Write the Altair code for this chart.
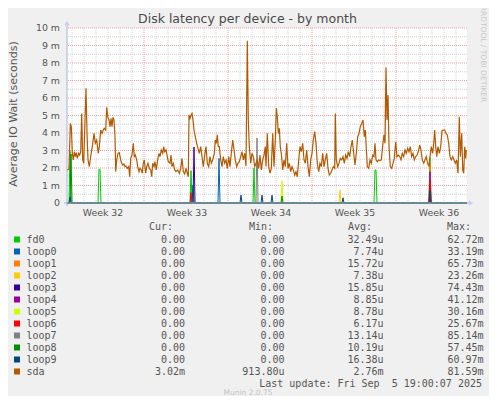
import altair as alt
import pandas as pd

# ---------------- data ----------------
N = 400  # 2-hour samples in the month window

title_text = "Disk latency per device - by month"
y_title = "Average IO Wait (seconds)"
week_ticks = [36, 120, 204, 288, 372]
week_labels = ["Week 32", "Week 33", "Week 34", "Week 35", "Week 36"]
y_ticks = list(range(11))
y_labels = ["0", "1 m", "2 m", "3 m", "4 m", "5 m", "6 m", "7 m", "8 m", "9 m", "10 m"]

names = ["fd0", "loop0", "loop1", "loop2", "loop3", "loop4", "loop5",
         "loop6", "loop7", "loop8", "loop9", "sda"]
colors = ["#00CC00", "#0066B3", "#FF8000", "#FFCC00", "#330099", "#990099",
          "#CCFF00", "#FF0000", "#808080", "#008F00", "#00487D", "#B35A00"]
cur_vals = ["0.00"] * 11 + ["3.02m"]
min_vals = ["0.00"] * 11 + ["913.80u"]
avg_vals = ["32.49u", "7.74u", "15.72u", "7.38u", "15.85u", "8.85u", "8.78u",
            "6.17u", "13.14u", "10.19u", "16.38u", "2.76m"]
max_vals = ["62.72m", "33.19m", "65.73m", "23.26m", "74.43m", "41.12m", "30.16m",
            "25.67m", "85.14m", "57.45m", "60.97m", "81.59m"]
last_update = "Last update: Fri Sep\u00a0 5 19:00:07 2025"

# loop/fd devices: sample index -> latency (ms), zero elsewhere
spikes = {
    "fd0": {3: 2.95, 32: 1.93, 33: 1.93, 124: 1.85, 187: 2.0, 308: 1.89, 309: 1.89, 363: 2.6},
    "loop0": {152: 2.55},
    "loop1": {363: 2.27},
    "loop2": {273: 0.74},
    "loop3": {127: 3.2},
    "loop4": {363: 1.79},
    "loop5": {215: 1.28},
    "loop6": {124: 0.6, 363: 1.31},
    "loop7": {190: 3.72},
    "loop8": {4: 2.8, 215: 0.4},
    "loop9": {3: 0.35, 126: 1.0, 174: 0.45, 195: 0.45, 205: 0.45, 276: 0.3, 363: 0.74},
}

# sda: sample index, latency (ms)
sda_t = [0, 2, 3.3, 4.3, 5.3, 6.3, 7.3, 8.3, 9.3, 10.3, 11.7, 12.7, 13.7, 14.7, 15.7, 16.7,
         17.7, 19, 20, 21, 22.3, 23.7, 25.3, 27, 28.3, 29.7, 31.3, 32.3, 33.7, 35, 36.3, 37.3,
         38.7, 39.7, 40.7, 42, 43, 44, 45, 46, 47, 48, 48.7, 49.7, 51, 52.3, 53.7, 54.7, 55.7,
         57, 58, 59, 60.3, 61.7, 62.7, 63.7, 65, 66.3, 67.3, 68.3, 69.7, 70.7, 72, 73, 74.3,
         75.3, 76.3, 77.3, 78.7, 79.7, 81, 82.3, 83.7, 84.7, 85.7, 87, 88, 89.3, 90.7, 92, 93,
         94.3, 95.7, 96.7, 97.7, 99, 100, 101.3, 103,
         104, 105, 106.3, 107.7, 109, 110.7, 112.3, 113.7, 115, 116.3, 117.7, 119, 120.3, 121.3,
         122, 123, 124, 125, 126, 127, 128.3, 129.7, 131, 132.3, 133.7, 135, 136.3, 137.7, 139,
         140.3, 141.7, 143, 144.3, 145.7, 147.3, 148.3, 149.3, 150.3, 151.3, 152.3, 153.7, 155,
         156.3, 157.7, 159, 160.3, 161.7, 163, 164.3, 165.7, 167, 168.3, 169.7, 171, 172.3,
         173.7, 175, 176.3, 177.7, 179, 180.3, 181.3, 182.3, 183.7, 185, 186.3, 187.7, 189,
         190.3, 191.7, 193, 194.3, 195.7, 197, 198.3,
         199, 200.3, 201.7, 203, 204.3, 205.7, 207, 208.3, 209.3, 210.3, 211.3, 212.3, 213.3,
         214.3, 215.7, 217, 218.3, 219.7, 221, 222.3, 223.7, 225, 226.3, 227.7, 229, 230.3,
         231.7, 233, 234.3, 235.7, 237, 238.3, 239.7, 241, 242.3, 243.7, 245, 246.3, 247.7, 249,
         250.3, 251.7, 253, 254.3, 255.7, 257, 258.3, 259.7, 261, 262.3, 263.7, 265, 266.3,
         267.7, 268.3, 269.3, 270.7, 272, 273.3, 274.7, 276, 277.3, 278.7, 280, 281.3, 282.7,
         284, 285.3, 286.7, 288, 289.3, 290.7, 292, 293.3, 294.7, 296, 297.3, 298.3,
         300.3, 301.7, 303, 304.3, 305.7, 307, 308, 309, 310.3, 311.7, 313, 314.3, 315.7, 317,
         318, 319, 320, 321, 322, 323.3, 324.7, 326, 327.3, 328.7, 330, 331.3, 332.7, 334,
         335.3, 336.7, 338, 339.3, 340.7, 342, 343.3, 344.7, 346, 347.3, 348.7, 350, 351.3,
         352.7, 354, 355.3, 356.7, 358, 359.3, 360.7, 362, 363, 364.3, 365.7, 366.7, 367.7,
         368.7, 369.7, 371, 372.3, 373.7, 375, 376.3, 377.7, 379, 380.3, 381.7, 383, 384.3,
         385.7, 387, 388.3, 389.7, 391, 392.3, 393.3, 394.7, 395.7, 396.7, 397.7, 398.7, 399.3]
sda_v = [1.89, 1.92, 4.55, 4.36, 2.84, 2.46, 2.93, 2.65, 2.88, 2.55, 2.84, 2.74, 2.93, 5.12, 2.46,
         2.27, 4.17, 6.55, 3.98, 2.46, 2.08, 2.65, 3.22, 3.98, 3.41, 3.6, 2.84, 3.22, 4.17, 3.98,
         4.17, 4.27, 4.17, 5.47, 4.93, 4.74, 4.36, 4.84, 4.36, 4.9, 4.74, 3.79, 1.79, 2.46, 2.84,
         2.88, 2.46, 2.27, 2.17, 2.23, 2.08, 2.11, 1.98, 2.08, 1.5, 2.55, 2.74, 3.41, 2.65, 2.74,
         2.46, 2.08, 1.79, 1.98, 1.89, 1.7, 2.27, 2.46, 1.7, 2.08, 2.27, 1.98, 1.89, 1.5, 2.27,
         2.08, 2.36, 1.89, 2.46, 2.84, 2.65, 3.03, 2.84, 3.22, 2.93, 3.03, 2.74, 2.36, 2.27,
         2.74, 2.08, 2.27, 1.89, 1.79, 1.89, 1.7, 1.98, 2.55, 1.79, 1.66, 1.98, 1.7, 1.5,
         5.03, 4.84, 5.03, 5.12, 4.74, 4.17, 3.79, 3.41, 3.12, 2.84, 3.22, 2.65, 2.08, 2.74, 3.22,
         2.27, 2.08, 2.65, 2.27, 2.46, 2.84, 3.6, 3.41, 3.89, 3.22, 3.22, 2.46, 2.08,
         2.65, 2.27, 2.46, 1.98, 2.65, 2.08, 2.84, 3.6, 3.03, 2.46, 2.08, 2.27, 2.36,
         2.65, 2.93, 2.46, 2.84, 2.11, 9.27, 4.74, 3.22, 2.27, 2.84, 2.65, 2.08, 2.27,
         2.46, 1.98, 2.74, 1.89, 2.46, 2.74, 3.22,
         2.08, 3.98, 2.08, 1.7, 1.98, 3.98, 2.08, 3.6, 5.42, 4.93, 3.98, 4.27, 3.22,
         2.84, 1.89, 2.46, 2.08, 3.41, 1.98, 2.27, 1.79, 2.08, 1.89, 1.6, 1.79, 1.5,
         2.46, 3.22, 2.93, 3.41, 2.46, 2.27, 3.03, 2.08, 1.5, 2.46, 2.84, 3.6, 4.08, 3.41,
         2.27, 1.79, 2.27, 2.08, 2.84, 2.08, 2.46, 2.84, 1.98, 1.6, 1.7, 1.89, 2.08,
         1.98, 5.12, 2.46, 2.08, 2.27, 2.55, 2.46, 2.65, 2.27, 2.74, 2.55, 2.93, 2.65,
         3.22, 3.6, 2.84, 2.17, 2.84, 3.79, 3.98, 4.36, 4.55, 4.74, 3.79, 4.17,
         2.08, 1.98, 2.46, 2.27, 2.74, 2.65, 3.41, 2.46, 2.36, 2.46, 2.42, 2.46, 3.31, 3.89,
         3.41, 7.75, 4.74, 6.17, 3.22, 2.08, 1.98, 2.27, 2.55, 3.5, 2.65, 2.74, 2.65, 2.46,
         2.84, 2.65, 3.03, 2.84, 3.12, 2.93, 3.22, 2.65, 2.84, 2.46, 2.65, 2.74, 2.93,
         3.31, 3.03, 2.46, 2.27, 2.46, 2.65, 2.27, 2.08, 2.65, 3.22, 2.84, 3.41, 4.17,
         3.22, 2.65, 3.22, 2.84, 3.22, 4.13, 4.17, 4.17, 3.98, 3.89, 3.41, 2.65, 2.46,
         2.65, 2.46, 2.27, 2.46, 1.7, 4.93, 2.65, 3.98, 1.89, 1.7, 3.22, 2.55, 3.03]

# grid positions (sample index / ms)
day_lines = [5 + 12 * k for k in range(33)]
week_lines = [77, 161, 245, 329]
minor_h = [i + 0.5 for i in range(10)]
major_h = list(range(1, 11))

# ---------------- styling ----------------
FONT = "DejaVu Sans"
MONO = "DejaVu Sans Mono"
TXT = "#555555"
AXIS_COL = "#A8B2D8"
ARROW_COL = "#C8D0F4"

xs = alt.Scale(domain=[0, N], nice=False, zero=False)
ys = alt.Scale(domain=[0, 10], nice=False, zero=False)

one = pd.DataFrame({"a": [0]})

# grid layers
g_vmin = alt.Chart(pd.DataFrame({"t": [d for d in day_lines if d not in week_lines]})).mark_rule(
    color="#D2D2D2", strokeDash=[1, 1], strokeWidth=1).encode(x=alt.X("t:Q", scale=xs, axis=None))
g_hmin = alt.Chart(pd.DataFrame({"v": minor_h})).mark_rule(
    color="#D2D2D2", strokeDash=[1, 1], strokeWidth=1).encode(y=alt.Y("v:Q", scale=ys, axis=None))
g_vmaj = alt.Chart(pd.DataFrame({"t": week_lines})).mark_rule(
    color="#F3A0A0", strokeDash=[1, 1], strokeWidth=1).encode(x=alt.X("t:Q", scale=xs, axis=None))
g_hmaj = alt.Chart(pd.DataFrame({"v": major_h})).mark_rule(
    color="#F3A0A0", strokeDash=[1, 1], strokeWidth=1).encode(y=alt.Y("v:Q", scale=ys, axis=None))

# device series (drawn in legend order, sda last)
series_layers = []
for name, col in zip(names[:-1], colors[:-1]):
    vals = [spikes[name].get(t, 0.0) for t in range(N + 1)]
    df = pd.DataFrame({"t": list(range(N + 1)), "v": vals})
    series_layers.append(
        alt.Chart(df).mark_line(color=col, strokeWidth=1, interpolate="linear").encode(
            x=alt.X("t:Q", scale=xs, axis=None), y=alt.Y("v:Q", scale=ys, axis=None)))

sda = alt.Chart(pd.DataFrame({"t": sda_t, "v": sda_v})).mark_line(
    color=colors[-1], strokeWidth=1.2).encode(
    x=alt.X("t:Q", scale=xs, axis=None), y=alt.Y("v:Q", scale=ys, axis=None))

# tick labels (placed through the same scales)
x_tick_text = alt.Chart(pd.DataFrame({"t": week_ticks, "s": week_labels})).mark_text(
    align="center", baseline="middle", font=FONT, fontSize=9.4, color=TXT).encode(
    x=alt.X("t:Q", scale=xs, axis=None), y=alt.value(184.5), text="s:N")
y_tick_text = alt.Chart(pd.DataFrame({"v": y_ticks, "s": y_labels})).mark_text(
    align="right", baseline="middle", font=FONT, fontSize=9.4, color=TXT).encode(
    y=alt.Y("v:Q", scale=ys, axis=None), x=alt.value(-7), text="s:N")

# axes lines & arrows
x_line = alt.Chart(one).mark_rule(color=AXIS_COL, strokeWidth=1).encode(
    x=alt.value(-3), x2=alt.value(402), y=alt.value(175))
y_line = alt.Chart(one).mark_rule(color=AXIS_COL, strokeWidth=1).encode(
    x=alt.value(0), y=alt.value(-4), y2=alt.value(178))
x_arrow = alt.Chart(one).mark_point(shape="triangle-right", filled=True, size=28, opacity=1,
                                    color=ARROW_COL).encode(x=alt.value(404), y=alt.value(175))
y_arrow = alt.Chart(one).mark_point(shape="triangle-up", filled=True, size=28, opacity=1,
                                    color=ARROW_COL).encode(x=alt.value(0), y=alt.value(-5))


# texts
def label(text, x, y, size, color=TXT, font=FONT, align="center", angle=0):
    return alt.Chart(pd.DataFrame({"s": [text]})).mark_text(
        align=align, baseline="middle", fontSize=size, font=font, color=color, angle=angle
    ).encode(text="s:N", x=alt.value(x), y=alt.value(y))


title = label(title_text, 180.5, -9, 12.5, color="#4a4a4a")
ytitle = label(y_title, -53.5, 86, 11, angle=270)
rrd = label("RRDTOOL / TOBI OETIKER", 415.5, 26, 7.5, color="#C8C8C8", angle=90)
munin = label("Munin 2.0.75", 181, 365, 7.5, color="#C4C4C4")
upd = label(last_update, 415, 355.5, 10, font=MONO, align="right")

headers = [label("Cur:", 82, 199, 10, font=MONO, align="left"),
           label("Min:", 182, 199, 10, font=MONO, align="left"),
           label("Avg:", 281, 199, 10, font=MONO, align="left"),
           label("Max:", 380, 199, 10, font=MONO, align="left")]


def pad(s):
    return s if s[-1].isalpha() else s + "\u00a0"


leg = pd.DataFrame({
    "i": list(range(len(names))), "name": names, "color": colors,
    "cur": [pad(s) for s in cur_vals], "mn": [pad(s) for s in min_vals],
    "avg": [pad(s) for s in avg_vals], "mx": [pad(s) for s in max_vals],
})
leg_base = alt.Chart(leg).transform_calculate(py="211.5 + 12 * datum.i")
leg_sq = leg_base.mark_square(size=36, opacity=1).encode(
    x=alt.value(-50), y=alt.Y("py:Q", scale=None),
    color=alt.Color("color:N", scale=None, legend=None))
leg_layers = [leg_sq,
              leg_base.mark_text(align="left", baseline="middle", font=MONO, fontSize=10,
                                 color=TXT).encode(x=alt.value(-40.5),
                                                   y=alt.Y("py:Q", scale=None), text="name:N")]
for fld, xr in [("cur", 118), ("mn", 217.5), ("avg", 316.5), ("mx", 416.5)]:
    leg_layers.append(
        leg_base.mark_text(align="right", baseline="middle", font=MONO, fontSize=10,
                           color=TXT).encode(x=alt.value(xr), y=alt.Y("py:Q", scale=None),
                                             text=f"{fld}:N"))

chart = alt.layer(
    g_vmin, g_hmin, g_vmaj, g_hmaj, *series_layers, sda,
    x_line, y_line, x_arrow, y_arrow, x_tick_text, y_tick_text,
    title, ytitle, rrd, munin, upd, *headers, *leg_layers,
).properties(
    width=400, height=175,
    padding={"left": 59, "top": 20, "right": 22, "bottom": 193},
    autosize=alt.AutoSizeParams(type="none"),
    background="#F0F0F0",
).configure_view(fill="white", strokeWidth=0)

chart.save("out.html", embed_options={"renderer": "svg", "actions": False})
